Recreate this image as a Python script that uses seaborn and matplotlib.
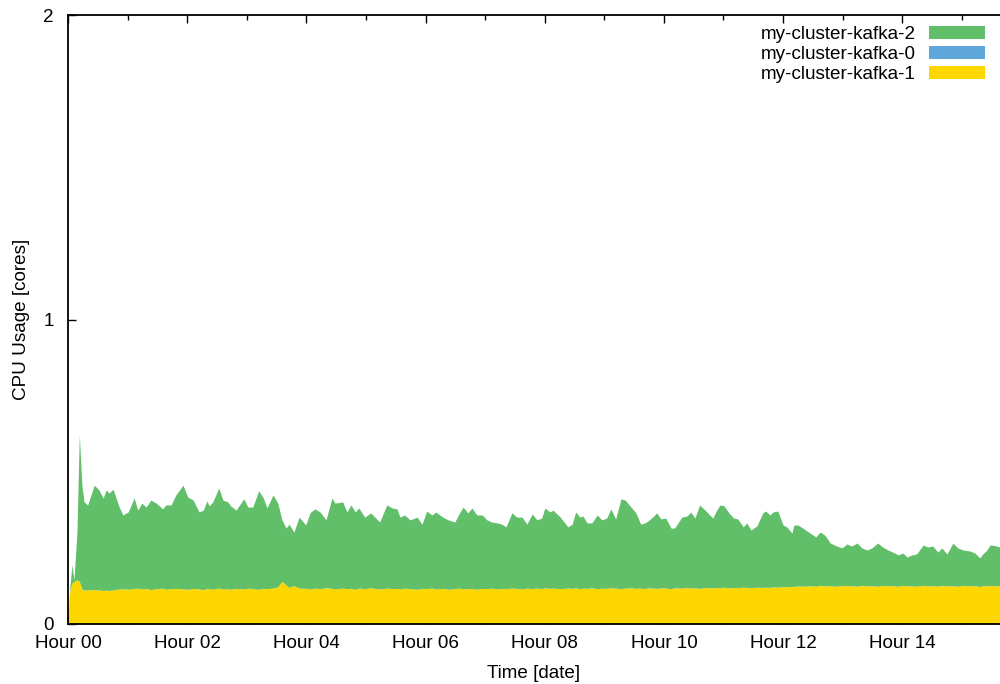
import numpy as np
import matplotlib
matplotlib.use("Agg")
import matplotlib.pyplot as plt
import seaborn as sns

# ---- data (time in hours since start, CPU usage in cores) ----
hours = [
    0.00, 0.03, 0.067, 0.10, 0.15, 0.19, 0.235, 0.27, 0.33, 0.44,
    0.52, 0.59, 0.64, 0.69, 0.755, 0.86, 0.92, 1.01, 1.11, 1.17,
    1.24, 1.31, 1.39, 1.48, 1.59, 1.64, 1.73, 1.81, 1.93, 2.01,
    2.10, 2.20, 2.27, 2.33, 2.37, 2.43, 2.53, 2.60, 2.68, 2.73,
    2.82, 2.95, 3.02, 3.10, 3.20, 3.27, 3.34, 3.44, 3.52, 3.59,
    3.66, 3.71, 3.79, 3.88, 3.99, 4.06, 4.14, 4.23, 4.33, 4.43,
    4.48, 4.61, 4.68, 4.75, 4.82, 4.88, 4.98, 5.08, 5.15, 5.23,
    5.35, 5.44, 5.52, 5.57, 5.65, 5.74, 5.86, 5.94, 6.02, 6.11,
    6.17, 6.29, 6.38, 6.49, 6.56, 6.63, 6.71, 6.78, 6.86, 6.95,
    7.03, 7.11, 7.20, 7.28, 7.35, 7.45, 7.53, 7.62, 7.70, 7.79,
    7.87, 7.95, 8.00, 8.09, 8.14, 8.26, 8.39, 8.46, 8.52, 8.59,
    8.64, 8.71, 8.79, 8.88, 8.96, 9.04, 9.11, 9.19, 9.28, 9.35,
    9.43, 9.53, 9.61, 9.68, 9.73, 9.81, 9.88, 9.95, 10.03, 10.12,
    10.18, 10.30, 10.39, 10.45, 10.52, 10.60, 10.69, 10.77, 10.82, 10.87,
    10.94, 11.01, 11.09, 11.17, 11.24, 11.33, 11.39, 11.46, 11.56, 11.66,
    11.71, 11.78, 11.83, 11.91, 12.00, 12.06, 12.15, 12.18, 12.25, 12.33,
    12.45, 12.55, 12.62, 12.70, 12.79, 12.90, 12.99, 13.07, 13.15, 13.24,
    13.32, 13.41, 13.49, 13.59, 13.67, 13.76, 13.84, 13.93, 14.01, 14.08,
    14.16, 14.24, 14.35, 14.43, 14.51, 14.60, 14.66, 14.75, 14.85, 14.93,
    15.02, 15.13, 15.22, 15.30, 15.35, 15.42, 15.47, 15.52, 15.64,
]

# stacked total (top edge of the green area)
stack_total = [
    0.02, 0.12, 0.194, 0.145, 0.30, 0.621, 0.450, 0.401, 0.391, 0.456,
    0.440, 0.414, 0.440, 0.430, 0.443, 0.384, 0.358, 0.368, 0.414, 0.374,
    0.397, 0.384, 0.407, 0.397, 0.378, 0.391, 0.391, 0.424, 0.456, 0.417,
    0.407, 0.368, 0.374, 0.404, 0.388, 0.401, 0.447, 0.407, 0.401, 0.388,
    0.374, 0.411, 0.384, 0.384, 0.437, 0.417, 0.381, 0.424, 0.397, 0.342,
    0.315, 0.328, 0.302, 0.351, 0.325, 0.365, 0.378, 0.368, 0.342, 0.414,
    0.397, 0.401, 0.368, 0.391, 0.368, 0.381, 0.351, 0.365, 0.351, 0.335,
    0.391, 0.381, 0.378, 0.351, 0.358, 0.342, 0.351, 0.328, 0.371, 0.358,
    0.368, 0.351, 0.342, 0.335, 0.361, 0.384, 0.365, 0.381, 0.358, 0.358,
    0.342, 0.335, 0.332, 0.328, 0.319, 0.365, 0.351, 0.351, 0.328, 0.361,
    0.342, 0.348, 0.381, 0.368, 0.374, 0.351, 0.319, 0.328, 0.368, 0.351,
    0.355, 0.332, 0.332, 0.358, 0.342, 0.348, 0.378, 0.345, 0.411, 0.407,
    0.388, 0.365, 0.328, 0.332, 0.338, 0.351, 0.365, 0.345, 0.348, 0.315,
    0.315, 0.351, 0.355, 0.368, 0.348, 0.391, 0.374, 0.358, 0.348, 0.368,
    0.391, 0.388, 0.365, 0.348, 0.345, 0.319, 0.332, 0.309, 0.322, 0.365,
    0.371, 0.358, 0.368, 0.371, 0.325, 0.319, 0.299, 0.325, 0.325, 0.315,
    0.299, 0.286, 0.302, 0.292, 0.266, 0.256, 0.250, 0.263, 0.256, 0.266,
    0.250, 0.243, 0.250, 0.266, 0.253, 0.243, 0.236, 0.227, 0.233, 0.220,
    0.227, 0.230, 0.259, 0.253, 0.256, 0.236, 0.250, 0.230, 0.266, 0.250,
    0.243, 0.240, 0.233, 0.217, 0.230, 0.243, 0.259, 0.259, 0.253,
]

# my-cluster-kafka-1 (bottom, yellow)
kafka_1 = [
    0.02, 0.11, 0.135, 0.14, 0.145, 0.14, 0.115, 0.112, 0.112, 0.113,
    0.112, 0.110, 0.111, 0.110, 0.112, 0.115, 0.116, 0.114, 0.117, 0.118,
    0.115, 0.117, 0.113, 0.116, 0.118, 0.114, 0.116, 0.117, 0.115, 0.114,
    0.117, 0.115, 0.113, 0.117, 0.116, 0.114, 0.118, 0.115, 0.116, 0.114,
    0.117, 0.115, 0.118, 0.116, 0.114, 0.117, 0.116, 0.118, 0.122, 0.140,
    0.128, 0.120, 0.126, 0.118, 0.117, 0.115, 0.118, 0.116, 0.119, 0.117,
    0.115, 0.118, 0.116, 0.117, 0.114, 0.118, 0.116, 0.119, 0.117, 0.115,
    0.118, 0.116, 0.117, 0.115, 0.118, 0.116, 0.114, 0.117, 0.116, 0.118,
    0.115, 0.117, 0.114, 0.116, 0.118, 0.115, 0.117, 0.116, 0.114, 0.117,
    0.116, 0.118, 0.115, 0.117, 0.116, 0.118, 0.117, 0.115, 0.118, 0.116,
    0.118, 0.116, 0.119, 0.117, 0.118, 0.116, 0.118, 0.117, 0.119, 0.116,
    0.118, 0.117, 0.119, 0.116, 0.118, 0.117, 0.119, 0.118, 0.116, 0.118,
    0.119, 0.117, 0.118, 0.116, 0.119, 0.118, 0.117, 0.119, 0.118, 0.116,
    0.119, 0.118, 0.120, 0.118, 0.119, 0.117, 0.120, 0.119, 0.118, 0.120,
    0.119, 0.121, 0.118, 0.120, 0.119, 0.121, 0.120, 0.119, 0.121, 0.120,
    0.121, 0.120, 0.122, 0.121, 0.123, 0.122, 0.124, 0.123, 0.125, 0.124,
    0.126, 0.124, 0.127, 0.125, 0.126, 0.124, 0.127, 0.125, 0.126, 0.124,
    0.127, 0.125, 0.126, 0.124, 0.127, 0.125, 0.126, 0.124, 0.127, 0.125,
    0.126, 0.124, 0.127, 0.125, 0.126, 0.124, 0.127, 0.125, 0.126, 0.124,
    0.127, 0.125, 0.126, 0.123, 0.126, 0.125, 0.127, 0.126, 0.125,
]

# my-cluster-kafka-0 (middle, blue) -- zero throughout, not visible
kafka_0 = [0.0] * len(hours)

# my-cluster-kafka-2 (top, green) = stacked total minus the layers below
kafka_2 = list(np.array(stack_total) - np.array(kafka_1) - np.array(kafka_0))

series_names = ["my-cluster-kafka-2", "my-cluster-kafka-0", "my-cluster-kafka-1"]
tick_hours = [0, 2, 4, 6, 8, 10, 12, 14]
tick_labels = ["Hour 00", "Hour 02", "Hour 04", "Hour 06",
               "Hour 08", "Hour 10", "Hour 12", "Hour 14"]

# ---- style ----
GREEN = "#61bf6a"
BLUE = "#5fa6da"
YELLOW = "#ffd700"
FS = 13.6

sns.set_theme(style="white")
plt.rcParams['font.family'] = ['Liberation Sans', 'DejaVu Sans']
plt.rcParams['font.size'] = FS

fig = plt.figure(figsize=(10, 6.84), dpi=100)
ax = fig.add_axes([0.068, 60 / 684, 0.932, 609 / 684])

polys = ax.stackplot(hours, kafka_1, kafka_0, kafka_2,
                     colors=[YELLOW, BLUE, GREEN], linewidth=0)

ax.set_xlim(0, 15.64)
ax.set_ylim(0, 2)
ax.set_axisbelow(True)

ax.set_xticks(tick_hours)
ax.set_xticklabels(tick_labels)
ax.set_xticks(range(0, 16), minor=True)
ax.set_yticks([0, 1, 2])
ax.set_yticklabels(["0", "1", "2"])

ax.tick_params(axis='x', which='major', direction='in', top=True, bottom=True,
               length=6, width=1, color='black', labelsize=FS, pad=8,
               labelcolor='black')
ax.tick_params(axis='x', which='minor', direction='in', top=True, bottom=True,
               length=3.5, width=1, color='black')
ax.tick_params(axis='y', which='major', direction='in', left=True, right=False,
               length=6, width=1, color='black', labelsize=FS, pad=10,
               labelcolor='black')

for side in ["left", "top", "bottom"]:
    ax.spines[side].set_color("black")
    ax.spines[side].set_linewidth(1.3)
ax.spines["right"].set_visible(False)

ax.set_xlabel("Time [date]", fontsize=FS, color="black", labelpad=9)
ax.set_ylabel("CPU Usage [cores]", fontsize=FS, color="black", labelpad=10)

# legend in gnuplot order (top series first), keys to the right of the text
handles = [polys[2], polys[1], polys[0]]
leg = ax.legend(handles, series_names, loc="upper right",
                bbox_to_anchor=(0.985, 0.962), bbox_transform=fig.transFigure,
                frameon=False, markerfirst=False, handlelength=2.95,
                handleheight=0.7, handletextpad=0.7, labelspacing=0.14,
                borderaxespad=0, borderpad=0, fontsize=FS)
for t in leg.get_texts():
    t.set_color("black")

fig.savefig("out.png", dpi=100)
